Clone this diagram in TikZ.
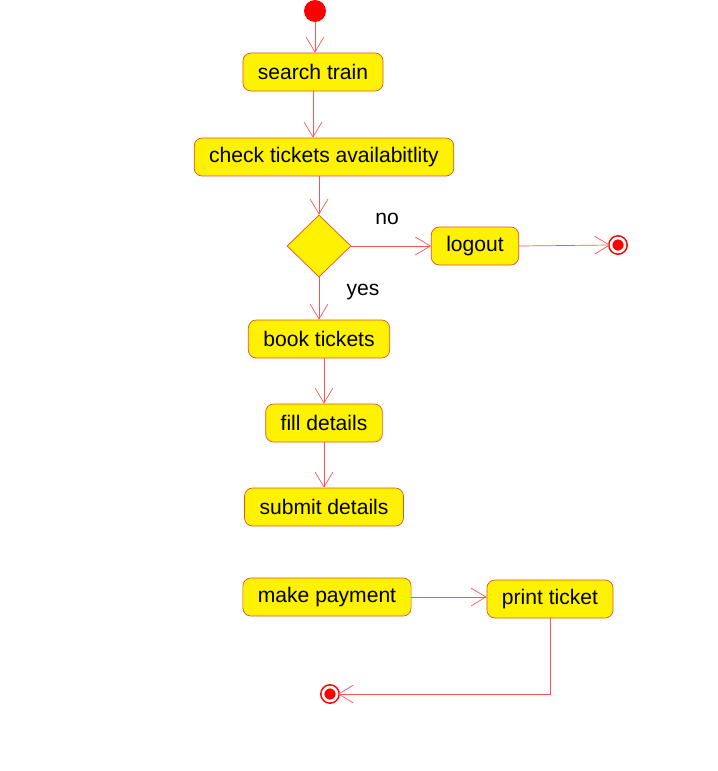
\documentclass[tikz,border=0pt]{standalone}
\usepackage{fontspec}
\setmainfont{Liberation Sans}
\usepackage{tikz}
\usetikzlibrary{shapes.geometric,arrows.meta}
\definecolor{boxline}{RGB}{225,80,40}
\definecolor{flowline}{RGB}{250,85,85}
\tikzstyle{activity} = [rectangle, rounded corners=0.16cm, draw=boxline, fill=yellow, minimum height=0.76cm, inner xsep=0.3cm, font=\fontsize{12pt}{14pt}\selectfont]
\tikzstyle{decision} = [diamond, draw=boxline, fill=yellow, inner sep=0pt, minimum width=1.28cm, minimum height=1.24cm]
\tikzstyle{start} = [circle, fill=red, inner sep=0pt, minimum size=0.44cm]
\tikzstyle{stop} = [circle, draw=red, fill=red, line width=0.9pt, double=white, double distance=1.5pt, inner sep=0pt, minimum size=0.28cm]
\tikzstyle{guard} = [font=\fontsize{12pt}{14pt}\selectfont]
\tikzstyle{flow} = [draw=flowline, -{Straight Barb[length=0.3cm,width=0.36cm]}]

\begin{document}
\begin{tikzpicture}[x=0.02cm, y=-0.02cm]
	\useasboundingbox (0,0) rectangle (717,771);
	% states and activities
	\node[start] (init) at (315,11) {};
	\node[activity] (search) at (313,72) {search train};
	\node[activity] (check) at (324,157) {check tickets availabitlity};
	\node[decision] (avail) at (319,246) {};
	\node[activity] (logout) at (475,246) {logout};
	\node[stop] (exitA) at (618,245) {};
	\node[activity] (book) at (319,339) {book tickets};
	\node[activity] (fill) at (324,423) {fill details};
	\node[activity] (submit) at (324,507) {submit details};
	\node[activity] (pay) at (327,597) {make payment};
	\node[activity] (print) at (550,599) {print ticket};
	\node[stop] (exitB) at (330,694) {};
	% guards
	\node[guard] (no) at (387,219) {no};
	\node[guard] (yes) at (363,292) {yes};
	% transitions
	\draw[flow] (init) -- (init |- search.north);
	\draw[flow] (search.south) -- (search.south |- check.north);
	\draw[flow] (check.south -| avail) -- (avail.north);
	\draw[flow] (avail.east) -- (logout.west);
	\draw[flow] (logout.east) -- (exitA.west);
	\draw[flow] (avail.south) -- (avail.south |- book.north);
	\draw[flow] (fill.north |- book.south) -- (fill.north);
	\draw[flow] (fill.south) -- (submit.north);
	\draw[flow] (pay.east) -- (pay.east -| print.west);
	\draw[flow] (print.south) |- (exitB.east);
\end{tikzpicture}
\end{document}
